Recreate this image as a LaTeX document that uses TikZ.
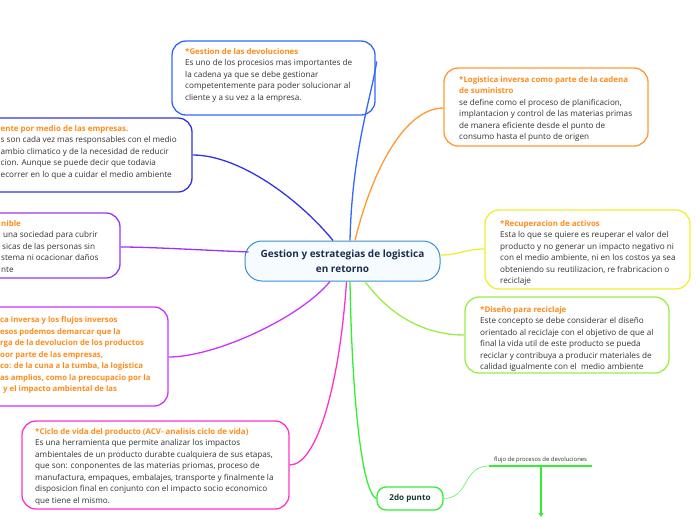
\documentclass[tikz,border=0pt]{standalone}
\usepackage{fontspec}
\setmainfont{Open Sans}
\usetikzlibrary{calc,fit,arrows.meta}
\definecolor{cBlue}{HTML}{3366FF}
\definecolor{cIndigo}{HTML}{3333E0}
\definecolor{cPurple}{HTML}{9933FF}
\definecolor{cViolet}{HTML}{CC33FF}
\definecolor{cPink}{HTML}{FF33CC}
\definecolor{cOrange}{HTML}{FF9933}
\definecolor{cYellow}{HTML}{EEEE33}
\definecolor{cLime}{HTML}{99EE44}
\definecolor{cGreen}{HTML}{33EE33}
\definecolor{cCenter}{HTML}{3B8FD0}
\definecolor{cCenterFill}{HTML}{F5FBFF}
\definecolor{ttl}{HTML}{FF8C1A}
\definecolor{bodytxt}{HTML}{333333}
\definecolor{navy}{HTML}{1F2D4D}
\definecolor{dkgreen}{HTML}{163A2E}
\newcommand{\ttlx}[1]{\textcolor{ttl}{\fontsize{7.9}{11.5}\selectfont\bfseries #1}}
\begin{document}
\begin{tikzpicture}[x=1pt,y=-1pt,
  topicbox/.style={draw=#1, line width=1.3pt, rounded corners=14pt, fill=white, inner sep=0pt},
  topictext/.style={anchor=north west, inner sep=0pt, align=left, text=bodytxt,
     font=\fontsize{8.15}{11.5}\selectfont},
  link/.style={draw=#1, line width=1.3pt}]
\useasboundingbox (0,0) rectangle (696,520);

% ---------- center ----------
\node[draw=cCenter, fill=cCenterFill, line width=1pt, rounded corners=17pt,
      minimum width=195pt, minimum height=40pt, inner sep=0pt, align=center,
      text=navy, font=\fontsize{10}{14.5}\selectfont\bfseries] (c) at (342.5,261)
      {Gestion y estrategias de logistica\\en retorno};

% ---------- boxes ----------
\node[topicbox=cBlue, fit={(172,41) (375,115)}] (b1) {};
\node[topicbox=cIndigo, fit={(-30,118) (192,192)}] (b2) {};
\node[topicbox=cPurple, fit={(-30,213) (120,278)}] (b3) {};
\node[topicbox=cViolet, fit={(-30,307) (168,406)}] (b4) {};
\node[topicbox=cPink, fit={(22,421) (289,509)}] (b5) {};
\node[topicbox=cOrange, fit={(444,68) (648,146)}] (b6) {};
\node[topicbox=cYellow, fit={(485,210) (690,289)}] (b7) {};
\node[topicbox=cLime, fit={(465,297) (669,373)}] (b8) {};
\node[draw=cGreen, line width=1.3pt, rounded corners=9pt, fill=white, inner sep=0pt,
      fit={(377,487) (443,510)}] (p2) {};
\node[text=dkgreen, font=\fontsize{8.1}{10}\selectfont\bfseries] (p2t) at (p2.center) {2do punto};

% ---------- connectors ----------
\draw[link=cBlue] ($(c.north)+(7.5,0)$) .. controls (352,150) and (372,95) .. ($(b1.north east)+(1,21)$);
\draw[link=cIndigo] ($(c.north)+(-9.5,0)$) .. controls (300,200) and (240,155) .. ($(b2.east)+(0,0)$);
\draw[link=cPurple] ($(c.west)+(4,-9)$) .. controls (200,250) and (150,247) .. ($(b3.east)+(0,1.5)$);
\draw[link=cViolet] ($(c.south)+(-12.5,0)$) .. controls (300,318) and (215,357) .. ($(b4.east)+(0,0.5)$);
\draw[link=cPink] ($(c.south)+(4,0)$) .. controls (340,380) and (318,465) .. ($(b5.east)+(0,0)$);
\draw[link=cGreen] ($(c.south)+(7.5,0)$) .. controls (352,400) and (362,492) .. ($(p2.west)+(0,0)$);
\draw[link=cLime] ($(c.south)+(22.5,0)$) .. controls (395,322) and (432,335) .. ($(b8.west)+(0,0)$);
\draw[link=cYellow] ($(c.east)+(0,-6)$) .. controls (460,255) and (465,249) .. ($(b7.west)+(0,-0.5)$);
\draw[link=cOrange] ($(c.north)+(12.5,0)$) .. controls (372,170) and (405,108) .. ($(b6.west)+(0,1)$);

% ---------- box texts ----------
\node[topictext] (t1) at (185,46) {\rule{0pt}{8pt}\ttlx{*Gestion de las devoluciones}\\
Es uno de los procesios mas importantes de\\
la cadena ya que se debe gestionar\\
competentemente para poder solucionar al\\
cliente y a su vez a la empresa.};

\node[topictext] (t2) at (0.5,123) {\rule{0pt}{8pt}\ttlx{ente por medio de las empresas.}\\
s son cada vez mas responsables con el medio\\
ambio climatico y de la necesidad de reducir\\
cion. Aunque se puede decir que todavia\\
ecorrer en lo que a cuidar el medio ambiente};

\node[topictext] (t3) at (1,218) {\rule{0pt}{8pt}\ttlx{nible}\\
\hspace{2pt}una sociedad para cubrir\\
\hspace{1pt}sicas de las personas sin\\
stema ni ocacionar daños\\
nte};

\node[topictext, text=ttl, font=\fontsize{7.8}{11.5}\selectfont\bfseries] (t4) at (0,314.5) {\rule{0pt}{8pt}ca inversa y los flujos inversos\\
esos podemos demarcar que la\\
rga de la devolucion de los productos\\
oor parte de las empresas,\\
co: de la cuna a la tumba, la logistica\\
as amplios, como la preocupacio por la\\
\hspace{3pt}y el impacto ambiental de las};

\node[topictext] (t5) at (35,426) {\rule{0pt}{8pt}\ttlx{*Ciclo de vida del producto (ACV- analisis ciclo de vida)}\\
Es una herramienta que permite analizar los impactos\\
ambientales de un producto durabte cualquiera de sus etapas,\\
que son: conponentes de las materias priomas, proceso de\\
manufactura, empaques, embalajes, transporte y finalmente la\\
disposicion final en conjunto con el impacto socio economico\\
que tiene el mismo.};

\node[topictext] (t6) at (459,74) {\rule{0pt}{8pt}\ttlx{*Logistica inversa como parte de la cadena}\\
\ttlx{de suministro}\\
se define como el proceso de planificacion,\\
implantacion y control de las materias primas\\
de manera eficiente desde el punto de\\
consumo hasta el punto de origen};

\node[topictext] (t7) at (500,218) {\rule{0pt}{8pt}\ttlx{*Recuperacion de activos}\\
Esta lo que se quiere es reuperar el valor del\\
producto y no generar un impacto negativo ni\\
con el medio ambiente, ni en los costos ya sea\\
obteniendo su reutilizacion, re frabricacion o\\
reciclaje};

\node[topictext] (t8) at (480,304) {\rule{0pt}{8pt}\ttlx{*Diseño para reciclaje}\\
Este concepto se debe considerar el diseño\\
orientado al reciclaje con el objetivo de que al\\
final la vida util de este producto se pueda\\
reciclar y contribuya a producir materiales de\\
calidad igualmente con el \ medio ambiente};

% ---------- sub-branch ----------
\coordinate (fa) at (489,466);
\coordinate (fb) at (592,466);
\coordinate (fm) at (541,467);
\coordinate (fe) at (541,517);
\node[text=bodytxt, font=\fontsize{5.9}{7}\selectfont, anchor=base] (fl) at (540.5,461.5) {flujo de procesos de devoluciones};
\draw[draw=cGreen!70, line width=0.7pt] (p2.east) .. controls (470,498) and (462,466) .. (fa);
\draw[draw=cGreen, line width=2pt] (fa) -- (fb);
\draw[draw=cGreen, line width=1.5pt, -{Triangle[length=4pt,width=5pt]}] (fm) -- (fe);
\end{tikzpicture}
\end{document}
